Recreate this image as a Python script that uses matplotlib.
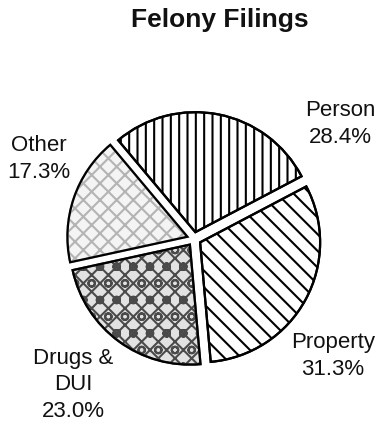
import numpy as np
import matplotlib.pyplot as plt
from matplotlib.patches import Wedge

plt.rcParams['font.family'] = ['Liberation Sans', 'DejaVu Sans']
plt.rcParams['hatch.linewidth'] = 1.5

# Felony filings by type (percent)
categories = ['Person', 'Property', 'Drugs &\nDUI', 'Other']
shares = [28.4, 31.3, 23.0, 17.3]

hatches = ['||', '\\\\', 'xxo', 'xx']
faces = ['white', 'white', '#e2e2e2', '#f4f4f4']
hatch_colors = ['black', 'black', '#4a4a4a', '#b4b4b4']
# label block centres (data units, pie radius = 1)
label_pos = [(1.217, 0.965), (1.158, -0.967), (-1.008, -1.208), (-1.292, 0.675)]

fig = plt.figure(figsize=(3.82, 4.27), dpi=100)
ax = fig.add_axes([0, 0, 1, 1])

wedges, _ = ax.pie(shares, startangle=130, counterclock=False,
                   explode=[0.058] * 4, radius=1.0,
                   colors=faces,
                   wedgeprops=dict(edgecolor='black', linewidth=1.6))

# hatch colour follows edge colour, so redraw the black outlines on top
for w, h, hc in zip(wedges, hatches, hatch_colors):
    w.set_hatch(h)
    w.set_edgecolor(hc)
    ax.add_patch(Wedge(w.center, w.r, w.theta1, w.theta2,
                       fill=False, edgecolor='black', linewidth=1.6))

for (x, y), lab, v in zip(label_pos, categories, shares):
    ax.text(x, y, f"{lab}\n{v:.1f}%", ha='center', va='center',
            fontsize=16, linespacing=1.35, color='#111111')

ax.text(0.217, 1.833, "Felony Filings", ha='center', va='center',
        fontsize=19, fontweight='bold', color='#111111')

ax.set_xlim(-194 / 120, (382 - 194) / 120)
ax.set_ylim(-(427 - 240) / 120, 240 / 120)
ax.set_aspect('equal')
ax.axis('off')

fig.savefig('out.png', dpi=100, facecolor='white')
